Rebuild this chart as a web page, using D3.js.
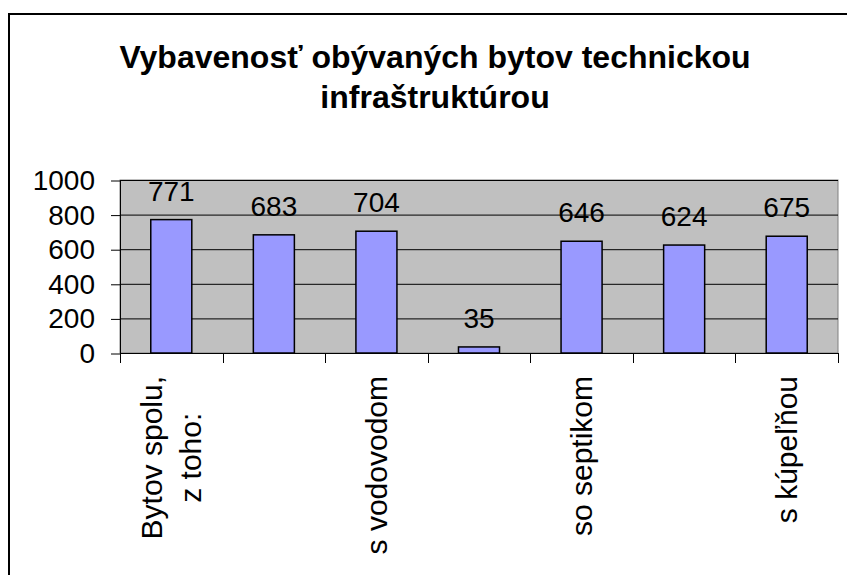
<!DOCTYPE html>
<html lang="sk">
<head>
    <meta charset="UTF-8">
    <title>Vybavenosť obývaných bytov technickou infraštruktúrou</title>
    <script src="https://d3js.org/d3.v7.min.js"></script>
    <style>
        body { margin: 0; background: #fff; }
        svg { display: block; font-family: "Liberation Sans", Arial, sans-serif; }
    </style>
</head>
<body>
<svg width="847" height="575"></svg>
<script>
    // data
    var titleLines = ["Vybavenosť obývaných bytov technickou", "infraštruktúrou"];
    var categories = ["Bytov spolu, z toho:", "", "s vodovodom", "", "so septikom", "", "s kúpeľňou"];
    var labelLines = [["Bytov spolu,", "z toho:"], [], ["s vodovodom"], [], ["so septikom"], [], ["s kúpeľňou"]];
    var values = [771, 683, 704, 35, 646, 624, 675];
    var yTicks = [0, 200, 400, 600, 800, 1000];

    var svg = d3.select("svg");

    // chart frame
    svg.append("rect")
        .attr("x", 9).attr("y", 14)
        .attr("width", 900).attr("height", 600)
        .attr("fill", "#fff")
        .attr("stroke", "#000")
        .attr("stroke-width", 2);

    // title
    var title = svg.append("text")
        .attr("text-anchor", "middle")
        .attr("font-weight", "bold")
        .attr("font-size", "32px")
        .attr("fill", "#000");
    title.selectAll("tspan")
        .data(titleLines)
        .enter().append("tspan")
        .attr("x", 435)
        .attr("y", function (d, i) { return 68 + i * 40; })
        .text(function (d) { return d; });

    var plotLeft = 120, plotRight = 838, plotTop = 180, plotBottom = 353;

    var x = d3.scaleBand()
        .domain(d3.range(categories.length))
        .range([plotLeft, plotRight])
        .padding(0);
    var y = d3.scaleLinear()
        .domain([0, 1000])
        .range([plotBottom, plotTop]);

    // plot area
    svg.append("rect")
        .attr("x", plotLeft).attr("y", plotTop)
        .attr("width", plotRight - plotLeft).attr("height", plotBottom - plotTop)
        .attr("fill", "#c0c0c0")
        .attr("stroke", "#808080")
        .attr("stroke-width", 1);

    // gridlines
    svg.append("g")
        .selectAll("line")
        .data(yTicks.filter(function (d) { return d > 0; }))
        .enter().append("line")
        .attr("x1", plotLeft).attr("x2", plotRight)
        .attr("y1", function (d) { return y(d) + 0.5; })
        .attr("y2", function (d) { return y(d) + 0.5; })
        .attr("stroke", "#000")
        .attr("stroke-width", 1);

    // y axis
    var yAxis = svg.append("g")
        .attr("transform", "translate(" + plotLeft + ",0.5)")
        .call(d3.axisLeft(y).tickValues(yTicks).tickFormat(d3.format("d")).tickSize(9).tickPadding(16).tickSizeOuter(0));
    yAxis.select(".domain").attr("stroke", "#000");
    yAxis.selectAll(".tick line").attr("stroke", "#000");
    yAxis.selectAll(".tick text")
        .attr("font-size", "28px")
        .attr("font-family", "Liberation Sans, Arial, sans-serif")
        .attr("fill", "#000");

    // x axis with ticks between categories
    var xg = svg.append("g");
    xg.append("line")
        .attr("x1", plotLeft).attr("x2", plotRight)
        .attr("y1", plotBottom + 0.5).attr("y2", plotBottom + 0.5)
        .attr("stroke", "#000");
    xg.selectAll(".xtick")
        .data(d3.range(categories.length + 1))
        .enter().append("line")
        .attr("class", "xtick")
        .attr("x1", function (d) { return Math.round(plotLeft + d * x.step()) + 0.5; })
        .attr("x2", function (d) { return Math.round(plotLeft + d * x.step()) + 0.5; })
        .attr("y1", plotBottom)
        .attr("y2", plotBottom + 10)
        .attr("stroke", "#000");

    // bars
    var barW = x.bandwidth() * 0.4;
    svg.append("g")
        .selectAll("rect")
        .data(values)
        .enter().append("rect")
        .attr("x", function (d, i) { return x(i) + (x.bandwidth() - barW) / 2; })
        .attr("y", function (d) { return y(d); })
        .attr("width", barW)
        .attr("height", function (d) { return y(0) - y(d); })
        .attr("fill", "#9999ff")
        .attr("stroke", "#000")
        .attr("stroke-width", 1.5);

    // value labels
    svg.append("g")
        .selectAll("text")
        .data(values)
        .enter().append("text")
        .attr("x", function (d, i) { return x(i) + x.bandwidth() / 2; })
        .attr("y", function (d) { return y(d) - 19; })
        .attr("text-anchor", "middle")
        .attr("font-size", "28px")
        .attr("fill", "#000")
        .text(function (d) { return d; });

    // category labels, rotated, top aligned under the axis
    labelLines.forEach(function (lines, i) {
        if (!lines.length) return;
        var cx = x(i) + x.bandwidth() / 2;
        var lh = 39;
        var g = svg.append("g");
        var texts = lines.map(function (line) {
            return g.append("text")
                .attr("text-anchor", "middle")
                .attr("font-size", "30px")
                .attr("fill", "#000")
                .attr("dy", "0.35em")
                .text(line);
        });
        var maxLen = d3.max(texts, function (t) { return t.node().getComputedTextLength(); });
        var cy = plotBottom + 23 + maxLen / 2;
        texts.forEach(function (t, k) {
            var off = (k - (lines.length - 1) / 2) * lh;
            t.attr("transform", "translate(" + (cx + off) + "," + cy + ") rotate(-90)");
        });
    });
</script>
</body>
</html>
